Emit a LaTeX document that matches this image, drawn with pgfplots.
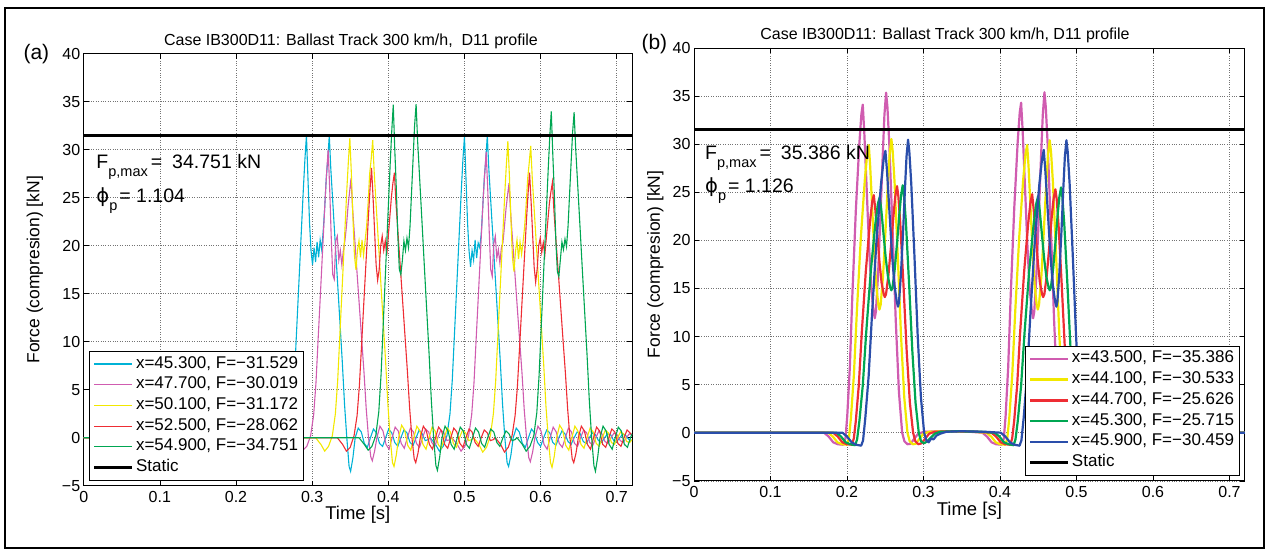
\documentclass[border=0pt]{standalone}
\usepackage{fontspec}
\setmainfont{Liberation Sans}
\newfontfamily\dejavu{DejaVu Sans}
\usepackage{pgfplots}
\pgfplotsset{compat=1.18}
\definecolor{ccyan}{RGB}{0,178,214}
\definecolor{cmag}{RGB}{208,92,176}
\definecolor{cyel}{RGB}{242,232,0}
\definecolor{cred}{RGB}{238,45,52}
\definecolor{cgreen}{RGB}{0,166,82}
\definecolor{cblue}{RGB}{42,78,170}
\pgfplotsset{legend image code/.code={\draw[#1] (0pt,0pt) -- (38pt,0pt);}}
\pgfplotsset{
  base/.style={
    scale only axis, anchor=south west,
    xmin=0, xmax=0.72, ymin=-5, ymax=40,
    xtick={0,0.1,0.2,0.3,0.4,0.5,0.6,0.7},
    xticklabels={0,0.1,0.2,0.3,0.4,0.5,0.6,0.7},
    ytick={-5,0,5,10,15,20,25,30,35,40},
    yticklabels={−5,0,5,10,15,20,25,30,35,40},
    tick align=inside, major tick length=5pt,
    tick style={black, line width=0.6pt},
    axis line style={line width=0.8pt},
    grid=major, major grid style={dotted, black!55, line width=0.6pt},
    ticklabel style={font=\fontsize{16}{16}\selectfont},
    xticklabel style={yshift=-2pt},
    xlabel={Time [s]}, ylabel={Force (compresion) [kN]},
    every axis x label/.style={at={(axis description cs:0.5,-0.068)}, anchor=center, font=\fontsize{18.5}{19}\selectfont},
    legend cell align=left,
    legend style={draw=black, fill=white,
      font=\fontsize{17}{17}\selectfont, inner xsep=3pt, inner ysep=2pt, row sep=0pt,
      nodes={text height=11.5pt, text depth=3.5pt, inner ysep=2.85pt, inner xsep=2pt}},
  },
}
\tikzset{
  bleg/.style={/pgfplots/legend image code/.code={\draw[##1, line width=2.4pt] (0pt,0pt) -- (38pt,0pt);}},
  aleg/.style={/pgfplots/legend image code/.code={\draw[##1, line width=1.2pt] (0pt,0pt) -- (38pt,0pt);}},
  sleg/.style={/pgfplots/legend image code/.code={\draw[black, line width=3.8pt] (0pt,0pt) -- (38pt,0pt);}},
}
\begin{document}
\begin{tikzpicture}
\useasboundingbox (0pt,0pt) rectangle (1270pt,550pt);
\draw[line width=1.4pt] (5pt,2pt) rectangle (1264pt,542pt);
\node[anchor=west, font=\fontsize{21}{21}\selectfont] at (20pt,496pt) {(a)};
\node[anchor=west, font=\fontsize{21}{21}\selectfont] at (638pt,506pt) {(b)};
\node[anchor=base, font=\fontsize{16}{16}\selectfont] at (351pt,504.3pt) {Case IB300D11: Ballast Track 300 km/h,\ \ D11 profile};
\node[anchor=base, font=\fontsize{16}{16}\selectfont] at (945pt,510pt) {Case IB300D11: Ballast Track 300 km/h, D11 profile};
% ---------------- panel (a)
\begin{axis}[base, at={(83.7pt,64.3pt)}, width=548.3pt, height=432pt,
  every axis y label/.style={at={(axis description cs:-0.089,0.5)}, rotate=90, anchor=center, font=\fontsize{17.5}{18}\selectfont},
  legend style={at={(axis description cs:0.0097,0.013)}, anchor=south west}]
\addplot[ccyan, line width=1.1pt, aleg] coordinates {
(0,0) (0.2475,0) (0.2545,-0.7) (0.2595,-1.3) (0.2645,-0.9) (0.2695,0.2) (0.2735,2.5) (0.2765,6) (0.2795,11) (0.2825,16) (0.2855,21) (0.2885,26) (0.2905,29) (0.2925,31.5)
(0.2945,27) (0.2965,22.5) (0.2985,19.5) (0.3005,18) (0.3025,19.8) (0.3045,18.3) (0.3065,20.4) (0.3085,18.8) (0.3105,20.6) (0.3125,19.6) (0.3145,21.5) (0.3165,24) (0.3185,27) (0.3205,29) (0.3225,31.5)
(0.3245,28) (0.3275,24) (0.3305,20) (0.3335,16) (0.3365,12) (0.3395,8) (0.3425,3.5) (0.3455,0) (0.3485,-3) (0.3505,-3.5) (0.3535,-2.1) (0.3565,0)
(0.3605,1.0) (0.3645,0.6) (0.3685,-0.6) (0.3725,-1.0) (0.3765,0) (0.3805,0.9) (0.3845,0.5) (0.3885,-0.6) (0.3925,-0.9) (0.3965,0) (0.4005,0.9) (0.4045,0.5) (0.4085,-0.5) (0.4125,-0.9) (0.4165,0) (0.4205,0.8) (0.4245,0.5) (0.4285,-0.5) (0.4325,-0.8) (0.4365,0) (0.4405,0.8) (0.4445,0.4) (0.4485,-0.3) (0.4525,-0.2)
(0.455,0) (0.462,-0.7) (0.467,-1.4) (0.472,-0.9) (0.477,0.2) (0.481,2.5) (0.484,6) (0.487,11) (0.490,16) (0.493,21) (0.496,26) (0.498,29) (0.500,31.4)
(0.502,27) (0.504,22.5) (0.506,19.5) (0.508,17.8) (0.510,19.5) (0.512,18.5) (0.514,20.6) (0.516,18.7) (0.518,20.3) (0.520,19.8) (0.522,21.2) (0.524,24) (0.526,27) (0.528,29) (0.530,31.5)
(0.532,28) (0.535,24) (0.538,20) (0.541,16) (0.544,12) (0.547,8) (0.550,3.5) (0.553,0) (0.556,-2.6) (0.558,-3.0) (0.561,-1.8) (0.564,0)
(0.568,1.0) (0.572,0.6) (0.576,-0.6) (0.580,-1.0) (0.584,0) (0.588,0.9) (0.592,0.5) (0.596,-0.5) (0.600,-0.9) (0.604,0) (0.608,0.8) (0.612,0.5) (0.616,-0.5) (0.620,-0.8) (0.624,0) (0.628,0.7) (0.632,0.4) (0.636,-0.4) (0.640,-0.7) (0.644,0) (0.648,0.6) (0.652,0.4) (0.656,-0.4) (0.660,-0.6) (0.664,0) (0.668,0.5) (0.672,0.3) (0.676,-0.3) (0.680,-0.5) (0.684,0) (0.688,0.4) (0.692,0.3) (0.696,-0.3) (0.700,-0.4) (0.704,0) (0.708,0.4) (0.712,0.2) (0.716,-0.2) (0.720,-0.3)
};
\addlegendentry{x=45.300, F=−31.529}
\addplot[cmag, line width=1.1pt, aleg] coordinates {
(0,0) (0.276,0) (0.283,-0.7) (0.288,-1.3) (0.293,-0.9) (0.298,0.2) (0.302,2.4) (0.305,5.7) (0.308,10.5) (0.311,15.2) (0.314,20.0) (0.317,24.8) (0.319,27.6) (0.321,30.0)
(0.323,26) (0.325,21) (0.327,17) (0.329,16.5) (0.331,20.5) (0.333,21) (0.335,18.5) (0.337,19.5) (0.339,18) (0.341,19.5) (0.343,20.5) (0.345,22) (0.347,24) (0.349,25.5) (0.351,27.0)
(0.353,24) (0.356,20.6) (0.359,17.1) (0.362,13.7) (0.365,10.3) (0.368,6.9) (0.371,3.0) (0.374,0) (0.377,-2.0) (0.379,-2.4) (0.382,-1.4) (0.385,0)
(0.389,1.2) (0.393,0.7) (0.397,-0.7) (0.401,-1.2) (0.405,0) (0.409,1.1) (0.413,0.7) (0.417,-0.6) (0.421,-1.1) (0.425,0) (0.429,1.0) (0.433,0.6) (0.437,-0.6) (0.441,-1.0) (0.445,0) (0.449,0.9) (0.453,0.6) (0.457,-0.5) (0.461,-0.9) (0.465,0) (0.469,0.8) (0.473,0.5) (0.477,-0.3) (0.481,-0.2)
(0.4835,0) (0.4905,-0.7) (0.4955,-1.4) (0.5005,-0.9) (0.5055,0.2) (0.5095,2.4) (0.5125,5.7) (0.5155,10.5) (0.5185,15.2) (0.5215,20.0) (0.5245,24.8) (0.5265,27.4) (0.5285,29.8)
(0.5305,26) (0.5325,21.5) (0.5345,17.5) (0.5365,16.8) (0.5385,20.2) (0.5405,21) (0.5425,18.7) (0.5445,19.6) (0.5465,18.2) (0.5485,19.8) (0.5505,20.3) (0.5525,22) (0.5545,23.8) (0.5565,25.2) (0.5585,26.5)
(0.5605,23.6) (0.5635,20.2) (0.5665,16.8) (0.5695,13.4) (0.5725,10.1) (0.5755,6.8) (0.5785,2.9) (0.5815,0) (0.5845,-2.1) (0.5865,-2.5) (0.5895,-1.5) (0.5925,0)
(0.5965,1.2) (0.6005,0.7) (0.6045,-0.7) (0.6085,-1.2) (0.6125,0) (0.6165,1.1) (0.6205,0.6) (0.6245,-0.6) (0.6285,-1.0) (0.6325,0) (0.6365,1.0) (0.6405,0.6) (0.6445,-0.6) (0.6485,-0.9) (0.6525,0) (0.6565,0.8) (0.6605,0.5) (0.6645,-0.5) (0.6685,-0.8) (0.6725,0) (0.6765,0.7) (0.6805,0.4) (0.6845,-0.4) (0.6885,-0.6) (0.6925,0) (0.6965,0.5) (0.7005,0.3) (0.7045,-0.3) (0.7085,-0.5) (0.7125,0) (0.7165,0.4) (0.72,0.3)
};
\addlegendentry{x=47.700, F=−30.019}
\addplot[cyel, line width=1.1pt, aleg] coordinates {
(0,0) (0.3045,0) (0.3115,-0.7) (0.3165,-1.4) (0.3215,-0.9) (0.3265,0.2) (0.3305,2.5) (0.3335,5.9) (0.3365,10.9) (0.3395,15.8) (0.3425,20.8) (0.3455,25.8) (0.3475,28.7) (0.3495,31.2)
(0.3515,27.5) (0.3535,23) (0.3555,19) (0.3575,17.5) (0.3595,19.5) (0.3615,20.5) (0.3635,18.8) (0.3655,20.6) (0.3675,19) (0.3695,20.5) (0.3715,22) (0.3735,24.5) (0.3755,27.5) (0.3775,29) (0.3795,31.0)
(0.3815,27.6) (0.3845,23.6) (0.3875,19.7) (0.3905,15.7) (0.3935,11.8) (0.3965,7.9) (0.3995,3.4) (0.4025,0) (0.4055,-2.6) (0.4075,-3.0) (0.4105,-1.8) (0.4135,0)
(0.4175,1.3) (0.4215,0.8) (0.4255,-0.8) (0.4295,-1.3) (0.4335,0) (0.4375,1.2) (0.4415,0.7) (0.4455,-0.7) (0.4495,-1.2) (0.4535,0) (0.4575,1.1) (0.4615,0.7) (0.4655,-0.7) (0.4695,-1.1) (0.4735,0) (0.4775,1.0) (0.4815,0.6) (0.4855,-0.6) (0.4895,-1.0) (0.4935,0) (0.4975,0.8) (0.5015,0.5) (0.5055,-0.3) (0.5095,-0.2)
(0.512,0) (0.519,-0.7) (0.524,-1.5) (0.529,-1.0) (0.534,0.2) (0.538,2.5) (0.541,5.9) (0.544,10.8) (0.547,15.7) (0.550,20.6) (0.553,25.5) (0.555,28.4) (0.557,30.9)
(0.559,27.3) (0.561,22.8) (0.563,18.8) (0.565,17.3) (0.567,19.4) (0.569,20.6) (0.571,18.6) (0.573,20.4) (0.575,19.1) (0.577,20.4) (0.579,22) (0.581,24.3) (0.583,27) (0.585,28.6) (0.587,30.4)
(0.589,27.1) (0.592,23.2) (0.595,19.3) (0.598,15.4) (0.601,11.6) (0.604,7.7) (0.607,3.3) (0.610,0) (0.613,-2.6) (0.615,-3.1) (0.618,-1.9) (0.621,0)
(0.625,1.3) (0.629,0.8) (0.633,-0.8) (0.637,-1.3) (0.641,0) (0.645,1.2) (0.649,0.7) (0.653,-0.7) (0.657,-1.1) (0.661,0) (0.665,1.0) (0.669,0.6) (0.673,-0.6) (0.677,-0.9) (0.681,0) (0.685,0.8) (0.689,0.5) (0.693,-0.5) (0.697,-0.7) (0.701,0) (0.705,0.6) (0.709,0.4) (0.713,-0.4) (0.717,-0.5) (0.72,-0.2)
};
\addlegendentry{x=50.100, F=−31.172}
\addplot[cred, line width=1.1pt, aleg] coordinates {
(0,0) (0.333,0) (0.340,-0.7) (0.345,-1.4) (0.350,-1.0) (0.355,0.2) (0.359,2.3) (0.362,5.4) (0.365,9.8) (0.368,14.3) (0.371,18.7) (0.374,23.2) (0.376,25.9) (0.378,28.1)
(0.380,25) (0.382,21.5) (0.384,18) (0.386,16.4) (0.388,17.5) (0.390,20) (0.392,21) (0.394,19.5) (0.396,20.5) (0.398,19) (0.400,21) (0.402,23) (0.404,25) (0.406,26.5) (0.408,27.6)
(0.410,24.5) (0.413,21.0) (0.416,17.5) (0.419,14.0) (0.422,10.5) (0.425,7.0) (0.428,3.1) (0.431,0) (0.434,-2.2) (0.436,-2.6) (0.439,-1.6) (0.442,0)
(0.446,1.2) (0.450,0.7) (0.454,-0.7) (0.458,-1.2) (0.462,0) (0.466,1.1) (0.470,0.7) (0.474,-0.7) (0.478,-1.1) (0.482,0) (0.486,1.0) (0.490,0.6) (0.494,-0.6) (0.498,-1.0) (0.502,0) (0.506,0.9) (0.510,0.6) (0.514,-0.5) (0.518,-0.9) (0.522,0) (0.526,0.8) (0.530,0.5) (0.534,-0.3) (0.538,-0.2)
(0.5405,0) (0.5475,-0.7) (0.5525,-1.5) (0.5575,-1.0) (0.5625,0.2) (0.5665,2.3) (0.5695,5.3) (0.5725,9.6) (0.5755,14.0) (0.5785,18.4) (0.5815,22.8) (0.5835,25.4) (0.5855,27.6)
(0.5875,24.6) (0.5895,21.2) (0.5915,17.8) (0.5935,16.2) (0.5955,17.6) (0.5975,20) (0.5995,20.8) (0.6015,19.3) (0.6035,20.3) (0.6055,19) (0.6075,20.8) (0.6095,22.6) (0.6115,24.4) (0.6135,25.6) (0.6155,26.6)
(0.6175,23.6) (0.6205,20.2) (0.6235,16.9) (0.6265,13.5) (0.6295,10.1) (0.6325,6.8) (0.6355,3.0) (0.6385,0) (0.6415,-2.2) (0.6435,-2.6) (0.6465,-1.6) (0.6495,0)
(0.6535,1.2) (0.6575,0.7) (0.6615,-0.7) (0.6655,-1.2) (0.6695,0) (0.6735,1.1) (0.6775,0.7) (0.6815,-0.7) (0.6855,-1.0) (0.6895,0) (0.6935,0.9) (0.6975,0.6) (0.7015,-0.6) (0.7055,-0.9) (0.7095,0) (0.7135,0.8) (0.72,0.3)
};
\addlegendentry{x=52.500, F=−28.062}
\addplot[cgreen, line width=1.1pt, aleg] coordinates {
(0,0) (0.3615,0) (0.3685,-0.7) (0.3735,-1.3) (0.3785,-0.9) (0.3835,0.2) (0.3875,2.7) (0.3905,6.6) (0.3935,12.1) (0.3965,17.6) (0.3995,23.1) (0.4025,28.6) (0.4045,31.9) (0.4065,34.7)
(0.4085,30) (0.4105,26) (0.4125,21) (0.4145,17.5) (0.4165,17) (0.4185,18.5) (0.4205,20.5) (0.4225,19.5) (0.4245,20.8) (0.4265,19.8) (0.4285,22) (0.4305,25.5) (0.4325,29) (0.4345,32.5) (0.4365,34.75)
(0.4385,30.9) (0.4415,26.5) (0.4445,22.1) (0.4475,17.6) (0.4505,13.2) (0.4535,8.8) (0.4565,3.9) (0.4595,0) (0.4625,-2.9) (0.4645,-3.4) (0.4675,-2.0) (0.4705,0)
(0.4745,1.2) (0.4785,0.7) (0.4825,-0.7) (0.4865,-1.2) (0.4905,0) (0.4945,1.1) (0.4985,0.7) (0.5025,-0.7) (0.5065,-1.1) (0.5105,0) (0.5145,1.0) (0.5185,0.6) (0.5225,-0.6) (0.5265,-1.0) (0.5305,0) (0.5345,0.9) (0.5385,0.6) (0.5425,-0.5) (0.5465,-0.9) (0.5505,0) (0.5545,0.7) (0.5585,0.4) (0.5625,-0.3) (0.5665,-0.2)
(0.569,0) (0.576,-0.7) (0.581,-1.4) (0.586,-0.9) (0.591,0.2) (0.595,2.6) (0.598,6.5) (0.601,11.9) (0.604,17.3) (0.607,22.6) (0.610,28.0) (0.612,31.3) (0.614,34.0)
(0.616,29.5) (0.618,25.5) (0.620,20.5) (0.622,17.3) (0.624,16.8) (0.626,18.6) (0.628,20.4) (0.630,19.6) (0.632,20.7) (0.634,19.9) (0.636,22) (0.638,25.3) (0.640,28.6) (0.642,31.8) (0.644,33.9)
(0.646,30.2) (0.649,25.9) (0.652,21.6) (0.655,17.2) (0.658,12.9) (0.661,8.6) (0.664,3.8) (0.667,0) (0.670,-2.9) (0.672,-3.5) (0.675,-2.0) (0.678,0)
(0.682,1.2) (0.686,0.7) (0.690,-0.7) (0.694,-1.2) (0.698,0) (0.702,1.1) (0.706,0.7) (0.710,-0.7) (0.714,-1.0) (0.718,0) (0.72,0.4)
};
\addlegendentry{x=54.900, F=−34.751}
\addplot[black, line width=3.6pt, sleg] coordinates {(0,31.5) (0.72,31.5)};
\addlegendentry{Static}
\node[anchor=base west, inner sep=0pt, font=\fontsize{19.5}{20}\selectfont] at (axis cs:0.0165,28.06) {F\raisebox{-0.42em}{\fontsize{14.5}{15}\selectfont p,max}\hspace{3pt}=\hspace{10pt}34.751 kN};
\node[anchor=base west, inner sep=0pt, font=\fontsize{19.5}{20}\selectfont] at (axis cs:0.0165,24.55) {{\dejavu ϕ}\raisebox{-0.42em}{\fontsize{14.5}{15}\selectfont p}\hspace{2pt}= 1.104};
\end{axis}
% ---------------- panel (b)
\begin{axis}[base, at={(694pt,69.2pt)}, width=550.8pt, height=432.9pt,
  every axis y label/.style={at={(axis description cs:-0.07,0.5)}, rotate=90, anchor=center, font=\fontsize{17.5}{18}\selectfont},
  legend style={at={(axis description cs:0.990,0.0134)}, anchor=south east}]
\addplot[cmag, line width=2.2pt, line join=round, bleg] coordinates {
(0,0) (0.170,0) (0.176,-0.4) (0.182,-1.0) (0.188,-1.2) (0.195,-1.25) (0.198,-0.6) (0.2003,1.7) (0.2037,6.8) (0.2070,14.3) (0.2116,23.2) (0.2161,30.0) (0.2188,33.1) (0.2206,34.1)
(0.2226,31.2) (0.2258,25.2) (0.2288,19.4) (0.2317,15.0) (0.2347,12.6) (0.2363,11.9) (0.2378,12.6) (0.2407,16.6) (0.2437,22.5) (0.2467,28.8) (0.2489,33.0) (0.2511,35.35)
(0.2528,33.9) (0.2553,30.0) (0.2595,21.2) (0.2637,11.7) (0.2679,4.2) (0.2721,0) (0.2751,-0.9) (0.2791,-1.2) (0.2831,-1.15) (0.2881,-0.6) (0.2931,-0.1) (0.3011,0.1) (0.33,0.15) (0.36,0.1)
(0.377,0) (0.383,-0.4) (0.389,-1.0) (0.395,-1.2) (0.402,-1.25) (0.405,-0.6) (0.4073,1.7) (0.4107,6.8) (0.4140,14.3) (0.4186,23.3) (0.4231,30.2) (0.4258,33.3) (0.4276,34.3)
(0.4296,31.4) (0.4328,25.3) (0.4358,19.5) (0.4387,15.0) (0.4417,12.6) (0.4433,11.9) (0.4448,12.6) (0.4477,16.6) (0.4507,22.5) (0.4537,28.8) (0.4559,33.0) (0.4581,35.39)
(0.4598,33.9) (0.4623,30.0) (0.4665,21.2) (0.4707,11.7) (0.4749,4.2) (0.4791,0) (0.4821,-0.9) (0.4861,-1.2) (0.4901,-1.15) (0.4951,-0.6) (0.5001,-0.1) (0.5081,0.05) (0.72,0)
};
\addlegendentry{x=43.500, F=−35.386}
\addplot[cyel, line width=2.2pt, line join=round, bleg] coordinates {
(0,0) (0.1755,0) (0.1815,-0.4) (0.1875,-1.0) (0.1935,-1.2) (0.2,-1.25) (0.2025,-0.6) (0.2051,1.5) (0.2090,6.0) (0.2129,12.6) (0.2181,20.3) (0.2233,26.3) (0.2264,29.0) (0.2285,29.9)
(0.2303,27.7) (0.2331,23.1) (0.2357,18.6) (0.2384,15.2) (0.2410,13.3) (0.2424,12.8) (0.2440,13.3) (0.2471,16.3) (0.2502,20.8) (0.2533,25.6) (0.2557,28.9) (0.258,30.53)
(0.2597,29.3) (0.2622,26.0) (0.2664,18.3) (0.2706,10.1) (0.2748,3.7) (0.279,0) (0.282,-0.9) (0.286,-1.2) (0.290,-1.15) (0.295,-0.6) (0.300,-0.1) (0.308,0.1) (0.335,0.15) (0.365,0.1)
(0.3825,0) (0.3885,-0.4) (0.3945,-1.0) (0.4005,-1.2) (0.407,-1.25) (0.4095,-0.6) (0.4121,1.5) (0.4160,6.0) (0.4199,12.6) (0.4251,20.3) (0.4303,26.3) (0.4334,29.0) (0.4355,29.9)
(0.4373,27.7) (0.4401,23.1) (0.4427,18.6) (0.4454,15.2) (0.4480,13.3) (0.4494,12.8) (0.4510,13.3) (0.4541,16.3) (0.4572,20.8) (0.4603,25.6) (0.4627,28.9) (0.4650,30.4)
(0.4667,29.2) (0.4692,26.0) (0.4734,18.3) (0.4776,10.1) (0.4818,3.7) (0.4860,0) (0.489,-0.9) (0.493,-1.2) (0.497,-1.15) (0.502,-0.6) (0.507,-0.1) (0.515,0.05) (0.72,0)
};
\addlegendentry{x=44.100, F=−30.533}
\addplot[cred, line width=2.2pt, line join=round, bleg] coordinates {
(0,0) (0.1819,0) (0.1879,-0.4) (0.1939,-1.0) (0.1999,-1.2) (0.2064,-1.25) (0.2089,-0.6) (0.2115,1.2) (0.2154,4.9) (0.2193,10.4) (0.2246,16.8) (0.2298,21.7) (0.2329,24.0) (0.2350,24.7)
(0.2369,23.3) (0.2398,20.5) (0.2425,17.7) (0.2452,15.6) (0.2480,14.4) (0.2494,14.1) (0.2510,14.4) (0.2542,16.4) (0.2574,19.3) (0.2606,22.4) (0.2630,24.5) (0.2654,25.63)
(0.2671,24.6) (0.2696,21.8) (0.2738,15.4) (0.2780,8.5) (0.2822,3.1) (0.2864,0) (0.2894,-0.9) (0.2934,-1.2) (0.2974,-1.1) (0.3024,-0.6) (0.3074,-0.1) (0.315,0.1) (0.34,0.15) (0.37,0.1)
(0.3889,0) (0.3949,-0.4) (0.4009,-1.0) (0.4069,-1.2) (0.4134,-1.25) (0.4159,-0.6) (0.4185,1.2) (0.4224,4.9) (0.4263,10.4) (0.4316,16.8) (0.4368,21.7) (0.4399,24.0) (0.4420,24.8)
(0.4439,23.3) (0.4468,20.5) (0.4495,17.7) (0.4522,15.6) (0.4550,14.4) (0.4564,14.1) (0.4580,14.4) (0.4612,16.4) (0.4644,19.3) (0.4676,22.4) (0.4700,24.3) (0.4724,25.3)
(0.4741,24.3) (0.4766,21.5) (0.4808,15.2) (0.4850,8.4) (0.4892,3.1) (0.4934,0) (0.4964,-0.9) (0.5004,-1.2) (0.5044,-1.1) (0.5094,-0.6) (0.5144,-0.1) (0.522,0.05) (0.72,0)
};
\addlegendentry{x=44.700, F=−25.626}
\addplot[cgreen, line width=2.2pt, line join=round, bleg] coordinates {
(0,0) (0.1862,0) (0.1922,-0.4) (0.1982,-1.0) (0.2042,-1.2) (0.2107,-1.3) (0.2132,-0.7) (0.2162,1.2) (0.2206,4.9) (0.2250,10.3) (0.2310,16.7) (0.2369,21.6) (0.2404,23.8) (0.2428,24.5)
(0.2448,23.2) (0.2478,20.6) (0.2507,18.1) (0.2536,16.2) (0.2565,15.1) (0.258,14.8) (0.2595,15.1) (0.2624,17.0) (0.2654,19.7) (0.2684,22.7) (0.2706,24.6) (0.2728,25.72)
(0.2745,24.7) (0.2770,21.9) (0.2812,15.4) (0.2854,8.5) (0.2896,3.1) (0.2938,0) (0.2968,-0.9) (0.3008,-1.1) (0.3048,-0.9) (0.3098,-0.5) (0.3148,-0.1) (0.322,0.1) (0.345,0.15) (0.375,0.1)
(0.3932,0) (0.3992,-0.4) (0.4052,-1.0) (0.4112,-1.2) (0.4177,-1.3) (0.4202,-0.7) (0.4232,1.2) (0.4276,4.9) (0.4320,10.3) (0.4380,16.7) (0.4439,21.6) (0.4474,23.8) (0.4498,24.6)
(0.4518,23.2) (0.4548,20.6) (0.4577,18.1) (0.4606,16.2) (0.4635,15.1) (0.4650,14.8) (0.4665,15.1) (0.4694,17.0) (0.4724,19.7) (0.4754,22.7) (0.4776,24.5) (0.4798,25.5)
(0.4815,24.5) (0.4840,21.7) (0.4882,15.3) (0.4924,8.4) (0.4966,3.1) (0.5008,0) (0.5038,-0.9) (0.5078,-1.1) (0.5118,-0.9) (0.5168,-0.5) (0.5218,-0.1) (0.529,0.05) (0.72,0)
};
\addlegendentry{x=45.300, F=−25.715}
\addplot[cblue, line width=2.2pt, line join=round, bleg] coordinates {
(0,0) (0.1940,0) (0.2000,-0.4) (0.2060,-1.0) (0.2120,-1.25) (0.2185,-1.35) (0.2210,-0.8) (0.2239,1.5) (0.2283,5.9) (0.2327,12.3) (0.2385,19.9) (0.2444,25.8) (0.2479,28.4) (0.2502,29.3)
(0.2523,27.2) (0.2556,22.8) (0.2588,18.6) (0.2619,15.4) (0.2651,13.6) (0.2667,13.1) (0.2680,13.6) (0.2706,16.6) (0.2733,20.9) (0.2759,25.6) (0.2778,28.7) (0.2798,30.46)
(0.2815,29.2) (0.2840,25.9) (0.2882,18.3) (0.2924,10.1) (0.2966,3.7) (0.3008,0) (0.3038,-0.8) (0.3068,-1.0) (0.3100,-0.6) (0.3130,-0.7) (0.3170,-0.3) (0.3220,-0.1) (0.330,0.1) (0.35,0.15) (0.38,0.1)
(0.4010,0) (0.4070,-0.4) (0.4130,-1.0) (0.4190,-1.25) (0.4255,-1.35) (0.4280,-0.8) (0.4309,1.5) (0.4353,5.9) (0.4397,12.3) (0.4455,19.9) (0.4514,25.8) (0.4549,28.4) (0.4572,29.4)
(0.4593,27.2) (0.4626,22.8) (0.4658,18.6) (0.4689,15.4) (0.4721,13.6) (0.4737,13.1) (0.4750,13.6) (0.4776,16.6) (0.4803,20.9) (0.4829,25.6) (0.4848,28.7) (0.4868,30.4)
(0.4885,29.2) (0.4910,25.9) (0.4952,18.3) (0.4994,10.1) (0.5036,3.7) (0.5078,0) (0.5108,-0.8) (0.5138,-1.0) (0.5170,-0.6) (0.5200,-0.7) (0.5240,-0.3) (0.5290,-0.1) (0.537,0.05) (0.72,0)
};
\addlegendentry{x=45.900, F=−30.459}
\addplot[black, line width=3.6pt, sleg] coordinates {(0,31.5) (0.72,31.5)};
\addlegendentry{Static}
\node[anchor=base west, inner sep=0pt, font=\fontsize{19.5}{20}\selectfont] at (axis cs:0.0144,28.45) {F\raisebox{-0.42em}{\fontsize{14.5}{15}\selectfont p,max}\hspace{3pt}=\hspace{10pt}35.386 kN};
\node[anchor=base west, inner sep=0pt, font=\fontsize{19.5}{20}\selectfont] at (axis cs:0.0144,24.95) {{\dejavu ϕ}\raisebox{-0.42em}{\fontsize{14.5}{15}\selectfont p}\hspace{2pt}= 1.126};
\end{axis}
\end{tikzpicture}
\end{document}
